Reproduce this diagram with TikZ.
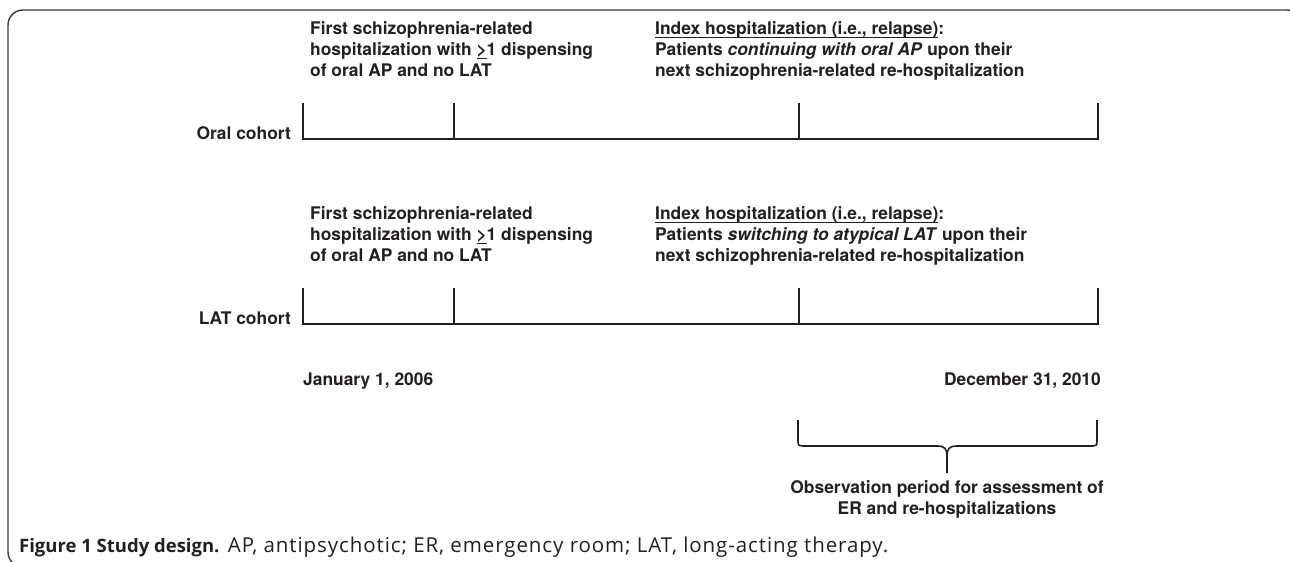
\documentclass[tikz,border=0pt]{standalone}
\usepackage{amsmath}
\usepackage{fontspec}
\setmainfont{TeX Gyre Heros}
\newfontfamily\capfont{Open Sans}
\newfontfamily\capwide[LetterSpace=4.5]{Open Sans}
\usepackage{xcolor}
\definecolor{ink-grey}{RGB}{35,31,32}
\definecolor{frame-grey}{RGB}{55,55,55}
\usepackage{tikz}
\usetikzlibrary{calc}
\newcommand{\undl}[1]{\underline{\smash[b]{#1}}}

\tikzset{
	note/.style={font=\fontsize{17.4}{21}\selectfont\bfseries, text=ink-grey, align=left, inner sep=0pt},
	timeline/.style={line width=1.8pt, draw=ink-grey, line join=miter},
}

\begin{document}
\begin{tikzpicture}[x=1pt,y=-1pt]
	\useasboundingbox (0,0) rectangle (1290,562);
	\clip (0,0) rectangle (1290,562);
	
	% outer frame, runs off the right and bottom edges
	\draw[frame-grey,line width=1.4pt,rounded corners=15pt] (8,10) rectangle (1302,567);
	
	% ticks on the two time lines
	\foreach \row/\ax in {O/139,L/324} {
		\coordinate (\row1) at (303,\ax);
		\coordinate (\row2) at (454,\ax);
		\coordinate (\row3) at (799,\ax);
		\coordinate (\row4) at (1098,\ax);
	}
	
	\draw[timeline] ($(O1)+(0,-36)$) -- (O1) -- (O4) -- ++(0,-36);
	\draw[timeline] (O2) -- ++(0,-36);
	\draw[timeline] (O3) -- ++(0,-36);
	\draw[timeline] ($(L1)+(0,-36)$) -- (L1) -- (L4) -- ++(0,-36);
	\draw[timeline] (L2) -- ++(0,-36);
	\draw[timeline] (L3) -- ++(0,-36);
	
	\node[note,anchor=base east] (oral) at (291,139) {Oral cohort};
	\node[note,anchor=base east] (lat) at (291,324) {LAT cohort};
	
	\node[note,anchor=north west] (firstO) at (310,21.5) {First schizophrenia-related\\hospitalization with \undl{>}1 dispensing\\of oral AP and no LAT};
	\node[note,anchor=north west] (indexO) at (655,21.5) {\undl{Index hospitalization (i.e., relapse)}:\\Patients \textit{continuing with oral AP} upon their\\next schizophrenia-related re-hospitalization};
	\node[note,anchor=north west] (firstL) at (310,206.5) {First schizophrenia-related\\hospitalization with \undl{>}1 dispensing\\of oral AP and no LAT};
	\node[note,anchor=north west] (indexL) at (655,206.5) {\undl{Index hospitalization (i.e., relapse)}:\\Patients \textit{switching to atypical LAT} upon their\\next schizophrenia-related re-hospitalization};
	
	\node[note,anchor=base west] (start) at (303,385) {January 1, 2006};
	\node[note,anchor=base east] (end) at (1101,385) {December 31, 2010};
	
	% brace under the observation period
	\coordinate (BL) at (798,420);
	\coordinate (BR) at (1097,420);
	\coordinate (BT) at (947,473);
	\draw[timeline,line width=1.6pt] (BL) -- (798,440) .. controls (798,446) .. (806,446) -- (937,446)
		.. controls (945,446) and (947,449) .. (947,456) -- (BT);
	\draw[timeline,line width=1.6pt] (BR) -- (1097,440) .. controls (1097,446) .. (1089,446) -- (957,446)
		.. controls (949,446) and (947,449) .. (947,456);
	
	\node[note,align=center,anchor=north] (obs) at (947,480.5) {Observation period for assessment of\\ER and re-hospitalizations};
	
	\node[anchor=base west,inner sep=0pt,text=ink-grey] (cap) at (19,552)
		{{\capfont\fontsize{18.5}{22}\selectfont\bfseries Figure 1 Study design.}{\capwide\fontsize{20.5}{22}\selectfont{} AP, antipsychotic; ER, emergency room; LAT, long-acting therapy.}};
\end{tikzpicture}
\end{document}
